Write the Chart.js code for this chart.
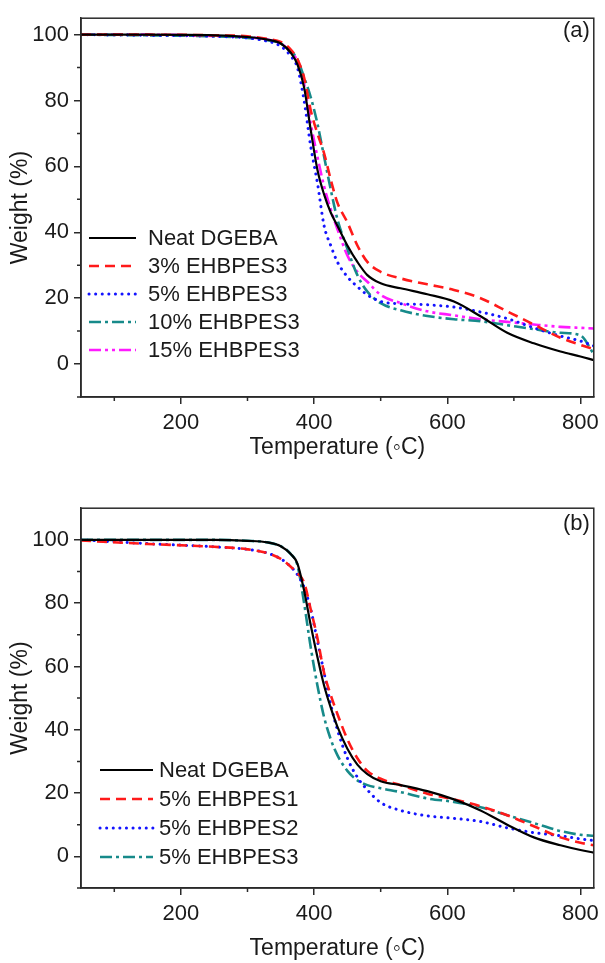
<!DOCTYPE html>
<html>
<head>
<meta charset="utf-8">
<script src="https://cdn.jsdelivr.net/npm/chart.js@4.4.1/dist/chart.umd.min.js"></script>
<style>
  html, body { margin: 0; padding: 0; background: #fff; }
  body { width: 605px; height: 963px; position: relative; overflow: hidden; }
  .panel { position: absolute; left: 0; width: 605px; }
  #panelA { top: 0; height: 470px; }
  #panelB { top: 490px; height: 473px; }
</style>
</head>
<body>
<div class="panel" id="panelA"><canvas id="chartA" width="605" height="470"></canvas></div>
<div class="panel" id="panelB"><canvas id="chartB" width="605" height="473"></canvas></div>
<script>
// temperature grid (°C) shared by every curve
const temps = [50, 150, 250, 300, 330, 350, 365, 375, 385, 395, 405, 415, 425, 435, 450, 465, 480, 500, 530, 570, 610, 650, 690, 730, 770, 800, 820];

// panel (a) – weight (%)
const neatA = [100, 100, 99.8, 99.3, 98.5, 97.3, 94.5, 91, 84, 71, 59, 51.5, 46, 42, 36, 31, 27, 24.5, 23, 21.2, 19, 14.5, 9.5, 6.3, 3.8, 2.3, 1.2];
const ehb3pct3 = [100, 100, 99.8, 99.5, 98.7, 97.8, 95.5, 92.5, 87, 77, 70, 64, 56, 49, 43, 36, 31, 28, 26, 24.2, 22.5, 20, 16, 12, 8, 5.8, 4.5];
const ehb5pct3 = [100, 99.8, 99.5, 99, 98, 96.5, 93.5, 90, 80, 66, 55, 42, 36, 31, 26.5, 23.5, 21, 19, 18.3, 18, 17.3, 15.8, 13.8, 11, 8.5, 7, 5.5];
const ehb10pct3 = [100, 99.8, 99.5, 99, 98.3, 97.3, 95, 92.5, 87, 81, 73, 63, 53, 44, 35, 27, 22, 18.5, 16.3, 14.6, 13.6, 13, 11.8, 10.6, 9.5, 8.7, 3];
const ehb15pct3 = [100, 100, 99.6, 99.2, 98.5, 97.3, 94.8, 92, 85, 73, 63, 54, 47, 41, 33, 28, 25, 21, 18.5, 16, 14.8, 13.6, 12.8, 12, 11.3, 11, 10.8];

// panel (b) – weight (%)
const neatB = [100, 100, 100, 99.7, 99.2, 98, 95.5, 92.5, 84, 73, 63, 54, 47, 41, 34, 29, 26, 23.7, 22.5, 20.6, 18, 14.5, 10, 6, 3.5, 2, 1.2];
const ehb5pct1 = [99.8, 98.7, 97.8, 97, 95.8, 94, 91.5, 89.5, 86.5, 78, 69, 58, 51, 45, 37, 31, 27, 24.5, 22.5, 19.8, 18, 15.8, 13, 9.5, 6, 4.3, 3.5];
const ehb5pct2 = [100, 98.8, 97.8, 97, 95.8, 94, 91.5, 89, 85, 78, 68, 58, 48, 40, 31, 25, 21, 17, 14.5, 12.8, 12, 11, 9, 7.5, 6.5, 5.5, 5];
const ehb5pct3b = [100, 100, 100, 99.7, 99.2, 98, 95.5, 92, 80, 66, 54, 44, 37, 32, 27, 24, 22.5, 21.5, 20.3, 18.3, 17.2, 15.5, 13, 10.5, 8, 6.8, 6.5];

const xTicks = [200, 400, 600, 800];
const xMinor = [100, 300, 500, 700];
const yTicks = [0, 20, 40, 60, 80, 100];
const yMinor = [-10, 10, 30, 50, 70, 90];

const labelsA = ['Neat DGEBA', '3% EHBPES3', '5% EHBPES3', '10% EHBPES3', '15% EHBPES3'];
const labelsB = ['Neat DGEBA', '5% EHBPES1', '5% EHBPES2', '5% EHBPES3'];

const FONT = "'Liberation Sans', Arial, sans-serif";
Chart.defaults.font.family = FONT;
Chart.defaults.color = '#1a1a1a';

const styles = {
  solid:   { borderColor: '#000000', borderWidth: 2.2, borderDash: [] },
  dash:    { borderColor: '#ff1a1a', borderWidth: 2.6, borderDash: [10, 6] },
  dot:     { borderColor: '#1414ff', borderWidth: 3, borderDash: [0.1, 6.5], borderCapStyle: 'round' },
  dashdot: { borderColor: '#178a8a', borderWidth: 2.6, borderDash: [12, 4, 3, 4] },
  dashdotdot: { borderColor: '#ff1aff', borderWidth: 2.6, borderDash: [12, 4, 3, 4, 3, 4] }
};

function series(label, ys, style) {
  return Object.assign({
    label: label,
    data: temps.map((t, i) => ({ x: t, y: ys[i] })),
    pointRadius: 0,
    fill: false,
    cubicInterpolationMode: 'monotone',
    borderCapStyle: 'butt'
  }, style);
}

// frame, minor ticks, panel tag and legend
const framePlugin = {
  id: 'frame',
  afterDraw(chart, args, opts) {
    const { ctx, chartArea: a, scales } = chart;
    ctx.save();
    ctx.strokeStyle = '#2a2a2a';
    ctx.lineWidth = 1.5;
    ctx.setLineDash([]);
    ctx.strokeRect(a.left, a.top, a.right - a.left, a.bottom - a.top);
    ctx.beginPath();
    xMinor.forEach(v => {
      const px = scales.x.getPixelForValue(v);
      ctx.moveTo(px, a.bottom); ctx.lineTo(px, a.bottom + 4);
    });
    yMinor.forEach(v => {
      const py = scales.y.getPixelForValue(v);
      ctx.moveTo(a.left - 4, py); ctx.lineTo(a.left, py);
    });
    ctx.stroke();

    ctx.fillStyle = '#1a1a1a';
    ctx.font = '22px ' + FONT;
    ctx.textAlign = 'right';
    ctx.textBaseline = 'middle';
    ctx.fillText(opts.tag, a.right - 4, opts.tagY);

    ctx.textAlign = 'left';
    ctx.font = opts.legendFont + 'px ' + FONT;
    chart.data.datasets.forEach((ds, i) => {
      const y = opts.legendY + i * opts.legendStep;
      ctx.save();
      ctx.strokeStyle = ds.borderColor;
      ctx.lineWidth = ds.borderWidth;
      ctx.setLineDash(ds.borderDash || []);
      ctx.lineCap = ds.borderCapStyle || 'butt';
      ctx.beginPath();
      ctx.moveTo(opts.lineX0, y); ctx.lineTo(opts.lineX1, y);
      ctx.stroke();
      ctx.restore();
      ctx.fillText(ds.label, opts.textX, y + 1);
    });
    ctx.restore();
  }
};

function makeChart(id, datasets, cfg) {
  return new Chart(document.getElementById(id), {
    type: 'line',
    data: { datasets: datasets },
    options: {
      responsive: false,
      devicePixelRatio: 1,
      animation: false,
      layout: { padding: { top: cfg.top, right: 7, left: 0, bottom: 0 } },
      scales: {
        x: {
          type: 'linear', min: 50, max: 820,
          afterBuildTicks: s => { s.ticks = xTicks.map(v => ({ value: v })); },
          afterFit: s => { s.height = cfg.xHeight; },
          grid: { drawOnChartArea: false, drawTicks: true, tickLength: 7, color: '#2a2a2a', lineWidth: 1.5 },
          border: { display: true, color: '#2a2a2a', width: 1.5 },
          ticks: { font: { size: 22 }, padding: 6, color: '#1a1a1a', maxRotation: 0 },
          title: { display: true, text: 'Temperature (\u25E6C)', font: { size: 23 }, color: '#1a1a1a', padding: { bottom: cfg.titlePad } }
        },
        y: {
          type: 'linear', min: -10, max: cfg.yMax,
          afterBuildTicks: s => { s.ticks = yTicks.map(v => ({ value: v })); },
          afterFit: s => { s.width = 81; },
          grid: { drawOnChartArea: false, drawTicks: true, tickLength: 7, color: '#2a2a2a', lineWidth: 1.5 },
          border: { display: true, color: '#2a2a2a', width: 1.5 },
          ticks: { font: { size: 22 }, padding: 5, color: '#1a1a1a' },
          title: { display: true, text: 'Weight (%)', font: { size: 23 }, color: '#1a1a1a', padding: { top: 7 } }
        }
      },
      plugins: {
        legend: { display: false },
        tooltip: { enabled: false },
        frame: cfg.frame
      }
    },
    plugins: [framePlugin]
  });
}

makeChart('chartA', [
  series(labelsA[0], neatA, styles.solid),
  series(labelsA[1], ehb3pct3, styles.dash),
  series(labelsA[2], ehb5pct3, styles.dot),
  series(labelsA[3], ehb10pct3, styles.dashdot),
  series(labelsA[4], ehb15pct3, styles.dashdotdot)
], {
  top: 13, xHeight: 73, titlePad: 9, yMax: 105,
  frame: { tag: '(a)', tagY: 31, legendY: 238, legendStep: 28, lineX0: 89, lineX1: 136, textX: 148, legendFont: 22 }
});

makeChart('chartB', [
  series(labelsB[0], neatB, styles.solid),
  series(labelsB[1], ehb5pct1, styles.dash),
  series(labelsB[2], ehb5pct2, styles.dot),
  series(labelsB[3], ehb5pct3b, styles.dashdot)
], {
  top: 14, xHeight: 75, titlePad: 1, yMax: 110,
  frame: { tag: '(b)', tagY: 34, legendY: 280, legendStep: 29, lineX0: 100, lineX1: 153, textX: 159, legendFont: 22 }
});
</script>
</body>
</html>
